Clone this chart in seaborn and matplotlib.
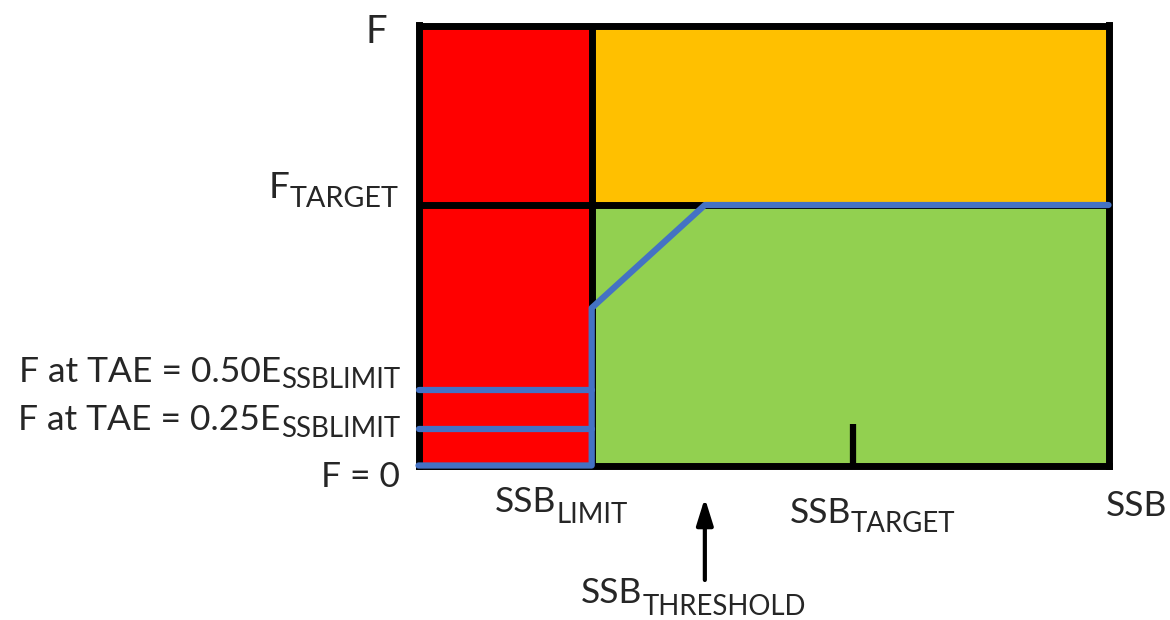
import matplotlib
matplotlib.use("Agg")
import matplotlib.pyplot as plt
from matplotlib.transforms import offset_copy
import pandas as pd
import seaborn as sns

# harvest control rule reference points (axes run 0..100)
ssb_limit = 25.1
ssb_threshold = 41.5
ssb_target = 62.9
ssb_max = 100
f_target = 59.2
f_at_limit = 35.8
f_max = 100
f_tae = [17.2, 8.2]
tae_labels = ["0.50", "0.25"]

# HCR path
hcr_x = [0, ssb_limit, ssb_limit, ssb_threshold, ssb_max]
hcr_y = [0, 0, f_at_limit, f_target, f_target]

RED = "#FF0000"
ORANGE = "#FFC000"
GREEN = "#92D050"
BLUE = "#4472C4"

sns.set_style("white")
plt.rcParams["font.family"] = ["Lato", "DejaVu Sans"]

fig = plt.figure(figsize=(11.7, 6.2), dpi=100)
ax = fig.add_axes([418.5 / 1170, 1 - 465.5 / 620, 690 / 1170, 440 / 620])
ax.set_xlim(0, ssb_max)
ax.set_ylim(0, f_max)
ax.set_axisbelow(False)

# zones
ax.fill_between([0, ssb_limit], 0, f_max, color=RED, lw=0)
ax.fill_between([ssb_limit, ssb_max], f_target, f_max, color=ORANGE, lw=0)
ax.fill_between([ssb_limit, ssb_max], 0, f_target, color=GREEN, lw=0)

# black zone borders
ax.plot([ssb_limit, ssb_limit], [0, f_max], color="black", lw=5, solid_capstyle="butt")
ax.plot([0, ssb_max], [f_target, f_target], color="black", lw=5, solid_capstyle="butt")

# blue control rule
hcr = pd.DataFrame({"ssb": hcr_x, "f": hcr_y})
sns.lineplot(data=hcr, x="ssb", y="f", sort=False, estimator=None, color=BLUE,
             lw=4.5, ax=ax, clip_on=False, zorder=5)
for fv in f_tae:
    sns.lineplot(x=[0, ssb_limit], y=[fv, fv], estimator=None, color=BLUE, lw=4.5,
                 ax=ax, clip_on=False, zorder=5)

for s in ax.spines.values():
    s.set_visible(True)
    s.set_color("black")
    s.set_linewidth(5)

# SSB target tick
ax.set_xticks([ssb_target])
ax.set_xticklabels([""])
ax.set_yticks([])
ax.tick_params(axis="x", direction="in", length=30, width=4.5, color="black", bottom=True)
ax.set_xlabel("")
ax.set_ylabel("")

renderer = fig.canvas.get_renderer()


def lab(main, sub, x, y, dx, dy, ha, size=25.5, drop=9):
    """main text with an optional lowered subscript; dx/dy in pixels from (x, y)"""
    t1 = ax.annotate(main, xy=(x, y), xytext=(0, 0), textcoords="offset pixels",
                     ha="left", va="baseline", fontsize=size, annotation_clip=False)
    w1 = t1.get_window_extent(renderer).width
    w2 = 0
    t2 = None
    if sub:
        t2 = ax.annotate(sub, xy=(x, y), xytext=(0, 0), textcoords="offset pixels",
                         ha="left", va="baseline", fontsize=size * 0.78,
                         annotation_clip=False)
        w2 = t2.get_window_extent(renderer).width
    total = w1 + w2
    if ha == "right":
        x0 = dx - total
    elif ha == "center":
        x0 = dx - total / 2
    else:
        x0 = dx
    t1.xyann = (x0, dy)
    if t2 is not None:
        t2.xyann = (x0 + w1, dy - drop)


lab("F", "", 0, f_max, -31.5, -17.5, "right", size=27.5)
lab("F", "TARGET", 0, f_target, -20.5, 7, "right", size=26.5, drop=9)
lab("F at TAE = " + tae_labels[0] + "E", "SSBLIMIT", 0, f_tae[0], -18.5, 7.8, "right", drop=6)
lab("F at TAE = " + tae_labels[1] + "E", "SSBLIMIT", 0, f_tae[1], -18.5, -0.6, "right", drop=7)
lab("F = 0", "", 0, 0, -18.5, -21.5, "right")

lab("SSB", "LIMIT", ssb_limit, 0, -30.7, -46.5, "center", drop=11)
lab("SSB", "TARGET", ssb_target, 0, 20, -57.5, "center", drop=9)
lab("SSB", "", ssb_max, 0, 28.5, -50.5, "center")
lab("SSB", "THRESHOLD", ssb_threshold, 0, -11.4, -137.5, "center", drop=12)

# arrow pointing at the threshold
tip = offset_copy(ax.transData, fig=fig, x=0, y=-32.5, units="dots")
tail = offset_copy(ax.transData, fig=fig, x=0, y=-114.5, units="dots")
ax.annotate("", xy=(ssb_threshold, 0), xycoords=tip, xytext=(ssb_threshold, 0),
            textcoords=tail, annotation_clip=False,
            arrowprops=dict(arrowstyle="-|>,head_length=1.6,head_width=0.5",
                            lw=3, color="black", mutation_scale=10,
                            shrinkA=0, shrinkB=0))

fig.savefig("out.png", dpi=100)
